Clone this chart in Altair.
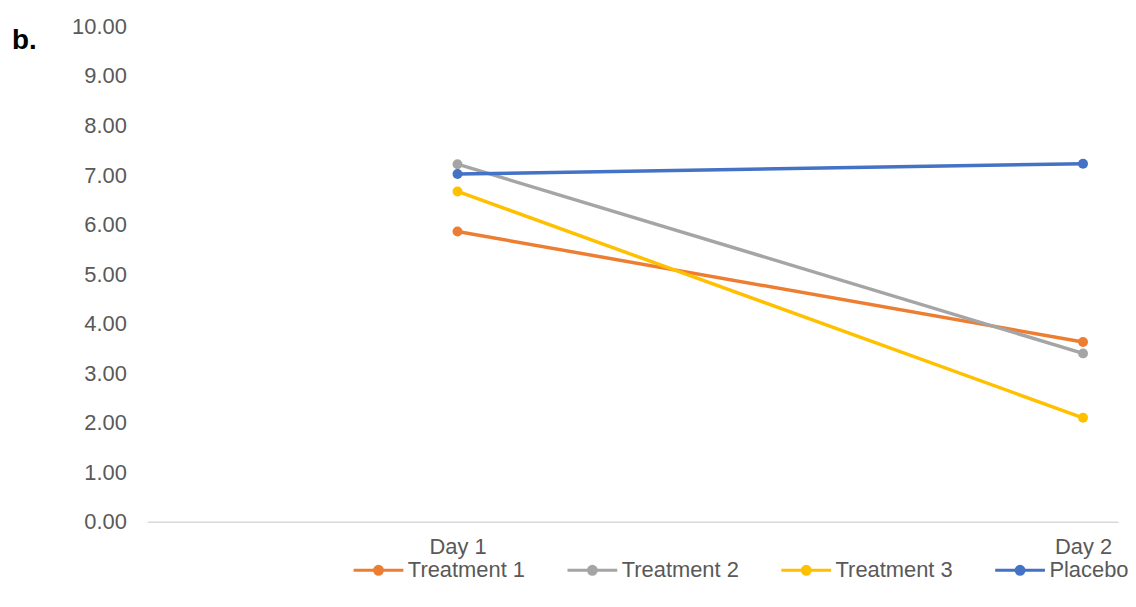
import altair as alt
import pandas as pd

series = ["Treatment 1", "Treatment 2", "Treatment 3", "Placebo"]
colors = ["#ED7D31", "#A5A5A5", "#FFC000", "#4472C4"]
days = ["Day 1", "Day 2"]
day1 = [5.86, 7.22, 6.67, 7.02]
day2 = [3.63, 3.40, 2.10, 7.23]
y_ticks = [0, 1, 2, 3, 4, 5, 6, 7, 8, 9, 10]
panel_label = ["b."]

rows = []
for s, a, b in zip(series, day1, day2):
    rows.append({"series": s, "day": days[0], "idx": 0, "value": a})
    rows.append({"series": s, "day": days[1], "idx": 1, "value": b})
df = pd.DataFrame(rows)

font = "Liberation Sans"
label_expr = f"datum.value == 0 ? '{days[0]}' : '{days[1]}'"

x = alt.X("idx:Q", scale=alt.Scale(domain=[-0.496, 1.056], nice=False, zero=False),
          axis=alt.Axis(values=[0, 1], labelExpr=label_expr, title=None, grid=False,
                        ticks=False, domainColor="#D9D9D9", domainWidth=1.5,
                        labelColor="#595959", labelFontSize=22, labelFont=font,
                        labelPadding=15))
y = alt.Y("value:Q", scale=alt.Scale(domain=[0, 10], nice=False),
          axis=alt.Axis(values=y_ticks, format=".2f", title=None, grid=False,
                        ticks=False, domain=False, labelColor="#595959",
                        labelFontSize=22, labelFont=font, labelPadding=21))
color = alt.Color("series:N", scale=alt.Scale(domain=series, range=colors),
                  legend=alt.Legend(title=None, orient="none", direction="horizontal",
                                    legendX=206, legendY=520, columns=4,
                                    symbolType="M-1,0H1M0.16,0A0.16,0.16,0,1,1,-0.16,0A0.16,0.16,0,1,1,0.16,0Z",
                                    symbolSize=2500, symbolStrokeWidth=3,
                                    labelFontSize=22, labelFont=font, labelColor="#595959",
                                    labelOffset=3, columnPadding=36))

base = alt.Chart(df).encode(x=x, y=y, color=color, detail="series:N")
lines = base.mark_line(strokeWidth=3.5)
points = base.mark_point(filled=True, size=100, opacity=1)

label = alt.Chart(pd.DataFrame({"t": panel_label})).mark_text(
    align="left", baseline="alphabetic", fontSize=28, fontWeight="bold",
    font=font, color="#000000"
).encode(text="t:N", x=alt.value(-136), y=alt.value(23))

chart = alt.layer(lines, points, label).properties(
    width=976, height=498,
    padding={"left": 140, "top": 17, "right": 10, "bottom": 70},
    autosize=alt.AutoSizeParams(type="none"),
).configure_view(stroke=None)

chart.save("out.html", embed_options={"renderer": "svg", "actions": False})
